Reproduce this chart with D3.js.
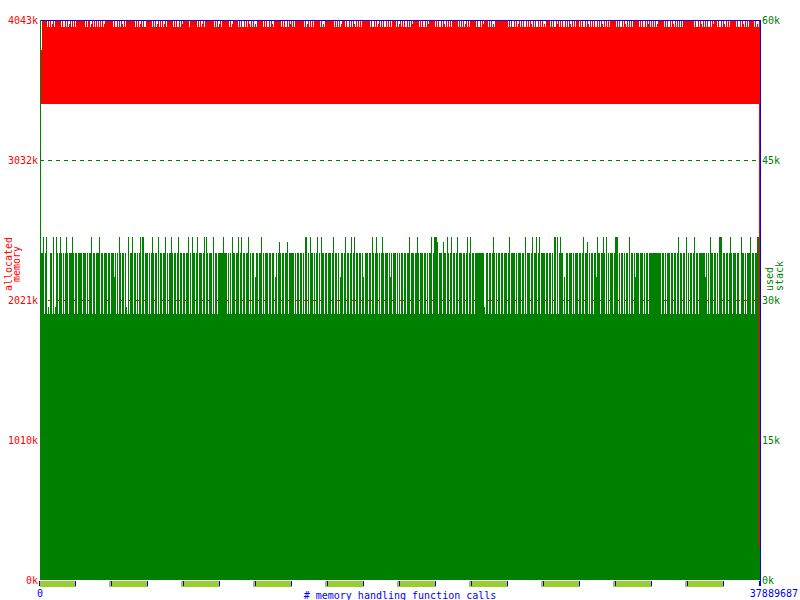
<!DOCTYPE html>
<html>
<head>
<meta charset="utf-8">
<script src="https://cdnjs.cloudflare.com/ajax/libs/d3/7.8.5/d3.min.js"></script>
<style>
  body { margin: 0; background: #fff; }
  svg { display: block; }
  text { font-family: "DejaVu Sans Mono", monospace; font-size: 10px; }
</style>
</head>
<body>
<svg id="chart" width="800" height="600"></svg>
<script>
// totals and axis labels
var totalCalls = 37889687;
var memTickValues = [0, 1010, 2021, 3032, 4043];
var memTickLabels = ["0k", "1010k", "2021k", "3032k", "4043k"];
var stackTickValues = [0, 15, 30, 45, 60];
var stackTickLabels = ["0k", "15k", "30k", "45k", "60k"];
var xTickLabels = ["0", "37889687"];
var markerTickCount = 20;
// light green bands under the x axis, as [from tick, to tick]
var markerBands = [[0, 1], [2, 3], [4, 5], [6, 7], [8, 9], [10, 11], [12, 13], [14, 15], [16, 17], [18, 19]];

// allocated memory, one code per pixel column -> [low, high] in k
var memLevels = {
    F: [3437, 4043],
    a: [3437, 3992],
    b: [3437, 4014],
    S: [3437, 3826],
    E: [0, 4043]
};
var memRows = [
    "FSFFFFFaFa FabFaFFFFF FaFaaFaFab FaFaFaFFFF FFFFFaFaFF abFaFaFaFa",
    "FaFabFFFFF FFFaFaaFaF aFbaFaFFFF FFFFFaFaFa bFaFaaFFFF FFaFaFabFa",
    "FaFabFaFFF FFFaFaFaaF aFbFFFFFFa FFFFFFFaFa FabFaFFFFF FFFFaFaFab",
    "FaFFFFFFFa FabFFFFFaF aFaaFaFaFb aFaFabaFFF FFFaFaFaaF aFbaFFFFFF",
    "FaFaFaaFaF bFaFaFFFFF FFFFaFabFa FaFaFFFFFF aFabaFFFFF FFFFaFaFaF",
    "abFFFaFaaF aFaFbaFaFa FaFFFFFFFF aFaaFaFabF aFaFaaFaFa FaFFFFaFab",
    "FaFaFaaFaF aFbFFFFFFa FaFaaFaFbF FFFFFaFaFa aFaFbaFaFa FaFFFFFFaF",
    "aFaFabFaFa FFFFFFaFaa FaFbFFFFaF aFabaFFFFF FFFFFFFFaF aFaaFaFabF",
    "aFaFaaFaFa FbaFaFaaFa FaFabaFFFF aFaFaaFbFa FaFaaFaFaF baFaFaFFFa",
    "FaFaaFaFba FaFaFaaFaF aFbaFaFaFa FFFFFFaFaF aaFaFbaFaF aFaFFFFFFa",
    "FaFaaFaFbF aFaFaFabFF FFFFaFaFaa FaFbaFaFaF aFaFFFFFFF FFFFaFaaFa",
    "FbaFaFaFaa FaFbFFFaFa aFaFbaFaFa FFFFFFaFaa FaFbaFaFaF FFFFaFabaE"
];

// used stack, one code per pixel column -> value in k
var stackLevels = { ".": 28.5, n: 35.0, T: 36.75, h: 36.2, m: 32.5, l: 29.3, z: 3.5 };
var stackRows = [
    ".nnT.nT.l. nn.T.lTn.n Tn.n.nTn.n nnTn.nn.nn nn.nnn.n.n nT.nn.nnnT",
    ".nn.nnn.nn .nnnmn.n.T n.nn.nl.T. nnT.nn.n.n T.TT.nnn.n .nTn.nn.T.",
    "nn.nnT.n.n nTn.nn.nT. nn.nn.nnT. n.Tnn.nT.n nn.nT.Tn.n nn.T.nn.nn",
    "nnnTnnn.n. n.Tnn.nnT. nT.nn.nnT. n.nn.mnn.n nT.n.nnn.n n.nn.mn.nh",
    "n.nn.nnh.n nnnn.n.nn. nn.n.TT.n. Tnn.n.nT.n .Tnn.nn.nn n.nT.nn.n.",
    "mnn.nT.nn. nT.nT.nn.n n.nm.nnn.n n.Tn.nTn.n .nTn.nnn.n mn.nnn.n.n",
    ".nn.nn.nnT .nnn.nnTn. nnn.nn.n.n nT.nTTTh.n nn.hnn.Tn. nT.nn.nT.n",
    "nn.nn.nT.n T.nn.nnnnn nnnnl.nn.n n.nTn.n.nn .nn.nnn.nT .nnnn.n.nn",
    "n.nn.T.nnn .nT.nnT.nT .nnnn.nn.n n.n.TT.T.n Tnn.m.nn.n nn.n.nnn.n",
    "n.nT.nnh.n .nn.nnmTnn .nnTn.T.n. nnn.nTTT.n .nn.n.nn.T .nn.nmnnn.",
    "nnn.n.nn.n nnnnnnnnnn n.nn.n.nnn .nn.nn.nT. nn.nn.T.n. nn.nT.nn.n",
    "nnnnnmn.n. Tnn.nn.n.T TT.nn.nn.n Tn.nnn.nn. .Tnn.n.nnn T.nn.nnTTz"
];

var memCodes = memRows.join("").replace(/ /g, "").split("");
var stackCodes = stackRows.join("").replace(/ /g, "").split("");

var width = 800,
    height = 600,
    plotLeft = 40,
    plotRight = 760,
    plotTop = 20,
    plotBottom = 580;

var svg = d3.select("#chart");

var x = d3.scaleLinear().domain([0, totalCalls]).range([plotLeft, plotRight]);
var yMem = d3.scaleLinear().domain([0, 4043]).range([plotBottom, plotTop]);
var yStack = d3.scaleLinear().domain([0, 60]).range([plotBottom, plotTop]);

var colCount = 720;
var callsPerCol = totalCalls / colCount;

// dashed guide lines (drawn first, data covers them)
var gridColors = { 1010: "#ff0000", 2021: "#ff0000", 3032: "#008000" };
svg.append("g")
    .selectAll("line")
    .data([1010, 2021, 3032])
    .enter()
    .append("line")
    .attr("x1", plotLeft)
    .attr("x2", plotRight)
    .attr("y1", function (d) { return Math.round(yMem(d)) + 0.5; })
    .attr("y2", function (d) { return Math.round(yMem(d)) + 0.5; })
    .style("stroke", function (d) { return gridColors[d]; })
    .style("stroke-dasharray", "4,4")
    .style("shape-rendering", "crispEdges");

// allocated memory
svg.append("g")
    .selectAll("rect")
    .data(memCodes)
    .enter()
    .append("rect")
    .attr("x", function (d, i) { return x(i * callsPerCol); })
    .attr("width", function (d, i) { return x((i + 1) * callsPerCol) - x(i * callsPerCol); })
    .attr("y", function (d) { return yMem(memLevels[d][1]); })
    .attr("height", function (d) { return yMem(memLevels[d][0]) - yMem(memLevels[d][1]); })
    .style("fill", "#ff0000")
    .style("shape-rendering", "crispEdges");

// used stack
svg.append("g")
    .selectAll("rect")
    .data(stackCodes)
    .enter()
    .append("rect")
    .attr("x", function (d, i) { return x(i * callsPerCol); })
    .attr("width", function (d, i) { return x((i + 1) * callsPerCol) - x(i * callsPerCol); })
    .attr("y", function (d) { return yStack(stackLevels[d]); })
    .attr("height", function (d) { return yStack(0) - yStack(stackLevels[d]); })
    .style("fill", "#008000")
    .style("shape-rendering", "crispEdges");

// frame
svg.append("line")
    .attr("x1", plotLeft).attr("x2", plotRight + 1)
    .attr("y1", plotTop + 0.5).attr("y2", plotTop + 0.5)
    .style("stroke", "#0000ff");
svg.append("line")
    .attr("x1", plotRight + 0.5).attr("x2", plotRight + 0.5)
    .attr("y1", plotTop).attr("y2", plotBottom + 6)
    .style("stroke", "#0000ff");
svg.append("line")
    .attr("x1", plotLeft + 0.5).attr("x2", plotLeft + 0.5)
    .attr("y1", plotTop).attr("y2", plotBottom)
    .style("stroke", "#008000");

// light green bands and blue ticks below the x axis
var tickStep = totalCalls / markerTickCount;
svg.append("g")
    .selectAll("rect")
    .data(markerBands)
    .enter()
    .append("rect")
    .attr("x", function (d) { return Math.max(plotLeft, x(d[0] * tickStep) - 3); })
    .attr("width", function (d) { return x(d[1] * tickStep) - Math.max(plotLeft, x(d[0] * tickStep) - 3); })
    .attr("y", plotBottom + 1)
    .attr("height", 6)
    .style("fill", "#9acd32");

svg.append("g")
    .selectAll("line")
    .data(d3.range(markerTickCount + 1))
    .enter()
    .append("line")
    .attr("x1", function (d) { return Math.round(x(d * tickStep)) - 0.5; })
    .attr("x2", function (d) { return Math.round(x(d * tickStep)) - 0.5; })
    .attr("y1", plotBottom + 1)
    .attr("y2", plotBottom + 6)
    .style("stroke", "#0000ff")
    .style("shape-rendering", "crispEdges");

// y labels
svg.append("g")
    .selectAll("text")
    .data(memTickValues)
    .enter()
    .append("text")
    .attr("x", plotLeft - 2)
    .attr("y", function (d) { return yMem(d); })
    .attr("dy", "0.35em")
    .attr("text-anchor", "end")
    .style("fill", "#ff0000")
    .text(function (d, i) { return memTickLabels[i]; });

svg.append("g")
    .selectAll("text")
    .data(stackTickValues)
    .enter()
    .append("text")
    .attr("x", plotRight + 2)
    .attr("y", function (d) { return yStack(d); })
    .attr("dy", "0.35em")
    .style("fill", "#008000")
    .text(function (d, i) { return stackTickLabels[i]; });

// x labels
svg.append("text")
    .attr("x", x(0))
    .attr("y", 597)
    .attr("text-anchor", "middle")
    .style("fill", "#0000ff")
    .text(xTickLabels[0]);
svg.append("text")
    .attr("x", 798)
    .attr("y", 597)
    .attr("text-anchor", "end")
    .style("fill", "#0000ff")
    .text(xTickLabels[1]);
svg.append("text")
    .attr("x", width / 2)
    .attr("y", 599)
    .attr("text-anchor", "middle")
    .style("fill", "#0000ff")
    .text("# memory handling function calls");

// rotated axis names
function upText(tx, ty, anchor, color, s) {
    svg.append("text")
        .attr("transform", "translate(" + tx + "," + ty + ") rotate(-90)")
        .attr("text-anchor", anchor)
        .style("fill", color)
        .text(s);
}
upText(12, 264, "middle", "#ff0000", "allocated");
upText(20, 264, "middle", "#ff0000", "memory");
upText(773, 291, "start", "#008000", "used");
upText(783, 291, "start", "#008000", "stack");
</script>
</body>
</html>
